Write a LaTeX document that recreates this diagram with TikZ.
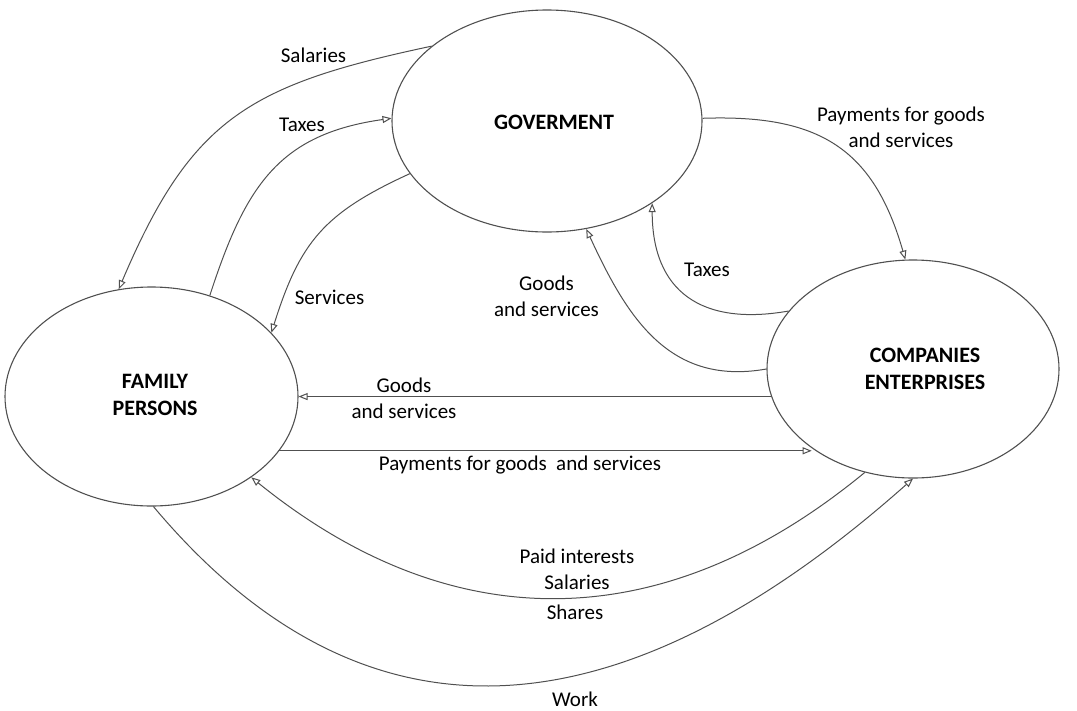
\documentclass[tikz,border=0pt]{standalone}
\usepackage{fontspec}
\setmainfont{Carlito}
\usetikzlibrary{arrows.meta,shapes.geometric}
\definecolor{linec}{RGB}{80,80,80}
\begin{document}
\begin{tikzpicture}[x=1pt,y=1pt,
  blob/.style={ellipse,draw=linec,line width=1.1pt,inner sep=0pt},
  title/.style={font=\fontsize{22}{27}\selectfont\bfseries,align=center,inner sep=0pt},
  lbl/.style={font=\fontsize{21}{26}\selectfont,align=center,inner sep=0pt},
  flow/.style={draw=linec,line width=1pt,-{Triangle[open,length=9pt,width=7pt]}},
]
\useasboundingbox (0,0) rectangle (1077,-710);

\node[blob,minimum width=310pt,minimum height=222pt] (gov) at (547,-121) {};
\node[blob,minimum width=293pt,minimum height=219pt] (fam) at (151.5,-396.5) {};
\node[blob,minimum width=292pt,minimum height=218pt] (comp) at (913,-369) {};

\node[title] (govt) at (554,-122) {GOVERMENT};
\node[title] (famt) at (155,-395) {FAMILY\\PERSONS};
\node[title] (compt) at (925,-368.5) {COMPANIES\\ENTERPRISES};

\draw[flow] (gov.147.7) to[out=192,in=67,looseness=1.2] (fam.107.2);
\draw[flow] (fam.60) to[out=72,in=188,looseness=1.15] (gov.179);
\draw[flow] (gov.201) to[out=204.6,in=72.5,looseness=1.15] (fam.28.7);
\draw[flow] (gov.1) to[out=2,in=106,looseness=1.2] (comp.94.6);
\draw[flow] (comp.155.7) to[out=190,in=270,looseness=1.3] (gov.322.8);
\draw[flow] (comp.180) to[out=190,in=294.7,looseness=1.1] (gov.290.2);
\draw[flow] (comp.191.2) -- (fam.east |- comp.191.2);
\draw[flow] (fam.337.8) -- (fam.337.8 -| comp.218.9);
\draw[flow] (comp.245.2) to[out=219.5,in=321,looseness=1.08] (fam.321.2);
\draw[flow] (fam.271) to[out=310,in=221.6,looseness=1.2] (comp.270);

\node[lbl] (l1) at (313.5,-55) {Salaries};
\node[lbl] (l2) at (302,-125) {Taxes};
\node[lbl] (l3) at (329.5,-297) {Services};
\node[lbl] (l4) at (901,-127.5) {Payments for goods\\and services};
\node[lbl] (l5) at (707,-270) {Taxes};
\node[lbl] (l6) at (546.5,-296) {Goods\\and services};
\node[lbl] (l7) at (404,-398.5) {Goods\\and services};
\node[lbl] (l8) at (520,-465) {Payments for goods\ \ and services};
\node[lbl] (l9) at (577,-569) {Paid interests\\Salaries};
\node[lbl] (l10) at (575,-612) {Shares};
\node[lbl] (l11) at (575,-699) {Work};
\end{tikzpicture}
\end{document}
